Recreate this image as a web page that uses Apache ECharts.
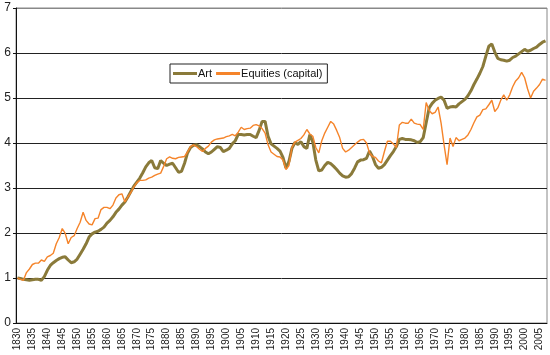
<!DOCTYPE html>
<html><head><meta charset="utf-8">
<script src="https://cdn.jsdelivr.net/npm/echarts@6/dist/echarts.min.js"></script>
<style>html,body{margin:0;padding:0;background:#fff}#c{width:550px;height:355px}</style>
</head><body><div id="c"></div>
<script>
const startYear = 1830;
const endYear = 2007;
const years = [];
for (let y = startYear; y <= endYear; y++) years.push(String(y));

const yTicks = [0, 1, 2, 3, 4, 5, 6, 7];

const art = [
1.00,0.99,0.97,0.96,0.95,0.96,0.97,0.97,0.95,1.03,
1.17,1.28,1.34,1.39,1.43,1.46,1.47,1.40,1.34,1.36,
1.42,1.53,1.64,1.76,1.91,1.98,2.02,2.04,2.08,2.13,
2.22,2.28,2.36,2.46,2.53,2.62,2.69,2.80,2.92,3.04,
3.13,3.22,3.34,3.47,3.56,3.61,3.45,3.43,3.61,3.55,
3.50,3.53,3.55,3.45,3.35,3.37,3.55,3.78,3.90,3.95,
3.96,3.92,3.87,3.80,3.76,3.80,3.86,3.92,3.90,3.81,
3.84,3.88,3.98,4.05,4.19,4.19,4.18,4.19,4.19,4.15,
4.12,4.28,4.48,4.48,4.15,3.98,3.93,3.88,3.82,3.68,
3.44,3.59,3.88,4.01,3.97,4.03,3.92,3.88,4.19,4.02,
3.62,3.38,3.40,3.50,3.57,3.54,3.48,3.41,3.33,3.27,
3.24,3.25,3.32,3.44,3.58,3.62,3.63,3.66,3.82,3.70,
3.52,3.44,3.46,3.52,3.62,3.72,3.81,3.92,4.08,4.10,
4.08,4.08,4.07,4.05,4.01,4.03,4.12,4.45,4.78,4.88,
4.95,4.99,5.02,4.95,4.77,4.80,4.81,4.80,4.87,4.92,
4.97,5.05,5.16,5.30,5.42,5.55,5.70,5.93,6.15,6.20,
6.02,5.88,5.85,5.84,5.82,5.84,5.90,5.93,5.98,6.03,
6.08,6.04,6.06,6.10,6.13,6.19,6.24,6.27
];

const equities = [
1.00,0.97,0.95,1.12,1.20,1.30,1.33,1.33,1.40,1.37,
1.47,1.50,1.55,1.76,1.90,2.10,1.99,1.76,1.90,1.94,
2.10,2.24,2.46,2.28,2.20,2.18,2.32,2.33,2.52,2.57,
2.57,2.54,2.62,2.78,2.85,2.87,2.69,2.80,2.90,3.02,
3.12,3.17,3.17,3.18,3.22,3.24,3.28,3.31,3.33,3.48,
3.65,3.69,3.66,3.65,3.68,3.69,3.70,3.80,3.92,3.96,
3.92,3.86,3.81,3.88,3.93,4.02,4.07,4.09,4.10,4.11,
4.14,4.16,4.19,4.16,4.24,4.35,4.30,4.32,4.33,4.39,
4.41,4.38,4.32,4.22,3.96,3.80,3.75,3.70,3.69,3.62,
3.41,3.50,3.90,4.02,4.06,4.10,4.18,4.30,4.20,4.15,
3.90,3.78,4.05,4.22,4.35,4.48,4.42,4.28,4.12,3.88,
3.80,3.84,3.90,3.96,4.02,4.07,4.08,4.00,3.78,3.70,
3.68,3.60,3.56,3.81,4.04,4.04,3.98,3.90,4.40,4.46,
4.44,4.44,4.53,4.44,4.42,4.41,4.30,4.90,4.72,4.65,
4.68,4.80,4.44,3.96,3.52,4.11,3.92,4.12,4.05,4.08,
4.11,4.18,4.30,4.45,4.58,4.62,4.74,4.76,4.85,4.95,
4.70,4.78,4.95,5.07,4.95,5.07,5.25,5.38,5.45,5.57,
5.45,5.20,5.00,5.15,5.22,5.30,5.42,5.39
];

const chart = echarts.init(document.getElementById('c'), null, {renderer: 'canvas'});
const font = 'Liberation Sans, Arial, sans-serif';
chart.setOption({
  animation: false,
  backgroundColor: '#fff',
  grid: {left: 16, right: 3, top: 8, bottom: 32, show: true, borderColor: '#888', borderWidth: 1},
  legend: {
    left: 170, top: 64,
    padding: [4, 5, 4, 3],
    borderColor: '#222', borderWidth: 1,
    itemGap: 4, itemWidth: 24, itemHeight: 3,
    icon: 'rect',
    textStyle: {fontFamily: font, fontSize: 11, color: '#111', padding: [0, 0, 0, -4]},
    data: ['Art', 'Equities (capital)']
  },
  xAxis: {
    type: 'category',
    data: years,
    boundaryGap: true,
    axisLine: {lineStyle: {color: '#111', width: 1}},
    axisTick: {interval: 0, length: 3, lineStyle: {color: '#111'}},
    axisLabel: {interval: 4, rotate: 90, fontFamily: font, fontSize: 10, color: '#222', margin: 5}
  },
  yAxis: {
    type: 'value',
    min: yTicks[0], max: yTicks[yTicks.length - 1], interval: 1,
    axisLine: {show: true, lineStyle: {color: '#111', width: 1}},
    axisTick: {show: true, length: 3, lineStyle: {color: '#111'}},
    axisLabel: {fontFamily: font, fontSize: 12, color: '#222', margin: 5},
    splitLine: {lineStyle: {color: ['#222','#222','#222','#222','#222','#222','#222','#888'], width: 1}}
  },
  series: [
    {name: 'Art', type: 'line', data: art, showSymbol: false, symbol: 'none',
     lineStyle: {color: '#8A7A3A', width: 3}, itemStyle: {color: '#8A7A3A'}},
    {name: 'Equities (capital)', type: 'line', data: equities, showSymbol: false, symbol: 'none',
     lineStyle: {color: '#F5842A', width: 1.4}, itemStyle: {color: '#F5842A'}}
  ]
});
</script></body></html>
